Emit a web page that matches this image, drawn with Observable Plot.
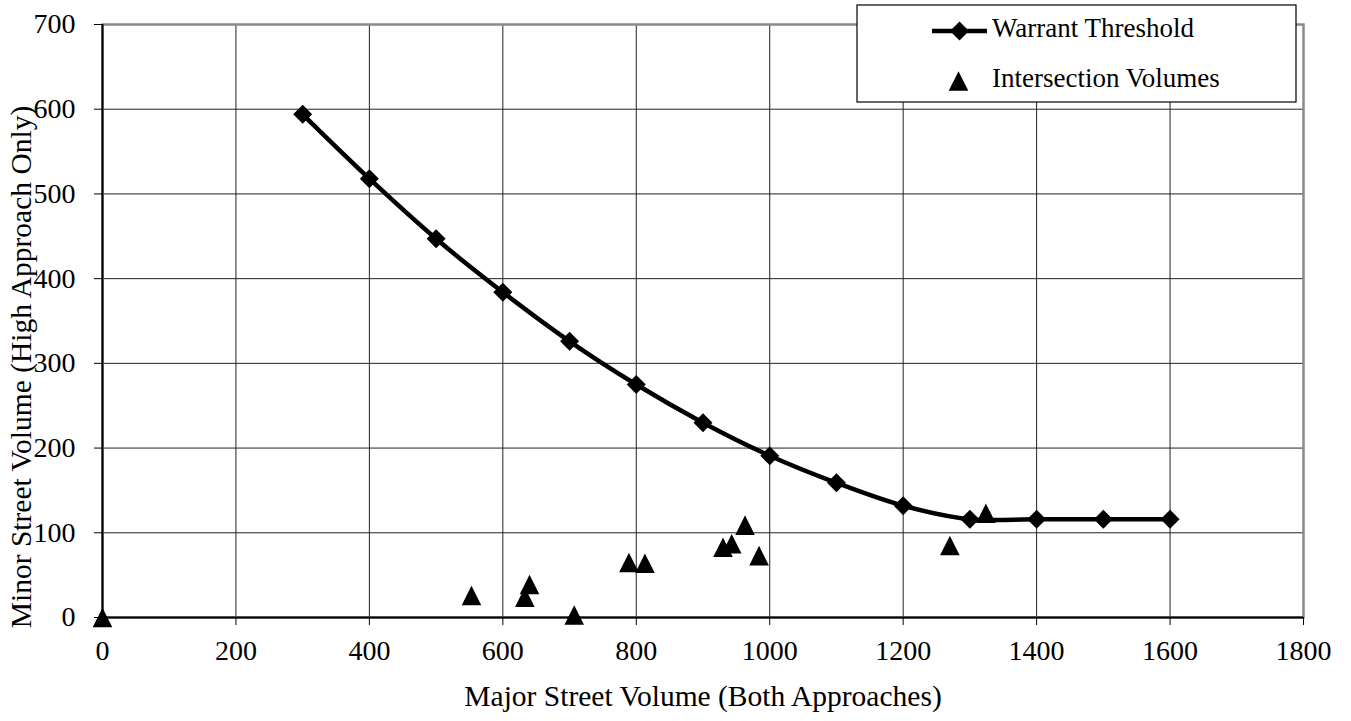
<!DOCTYPE html>
<html><head><meta charset="utf-8">
<script src="https://cdn.jsdelivr.net/npm/d3@7"></script>
<script src="https://cdn.jsdelivr.net/npm/@observablehq/plot@0.6"></script>
<style>
  html,body{margin:0;padding:0;background:#fff;}
  #chart{position:relative;width:1351px;height:721px;}
</style>
</head><body><div id="chart"></div>
<script>
// ---- data ----
const thresholdMajor = [300, 400, 500, 600, 700, 800, 900, 1000, 1100, 1200, 1300, 1400, 1500, 1600];
const thresholdMinor = [594, 518, 447, 384, 326, 275, 230, 191, 159, 132, 116, 116, 116, 116];
const intersectionMajor = [0, 553, 633, 640, 707, 789, 813, 930, 943, 963, 984, 1270, 1324];
const intersectionMinor = [0, 26, 24, 39, 3, 65, 64, 83, 87, 109, 73, 85, 123];
const xTicks = [0, 200, 400, 600, 800, 1000, 1200, 1400, 1600, 1800];
const yTicks = [0, 100, 200, 300, 400, 500, 600, 700];
const seriesNames = ["Warrant Threshold", "Intersection Volumes"];
const xTitle = "Major Street Volume (Both Approaches)";
const yTitle = "Minor Street Volume (High Approach Only)";

const threshold = thresholdMajor.map((x, i) => ({x, y: thresholdMinor[i]}));
const intersections = intersectionMajor.map((x, i) => ({x, y: intersectionMinor[i]}));

// Excel-like marker shapes (centred in their bounding box)
const triangle = {draw(ctx, size) {const h = Math.sqrt(size / Math.PI);
  ctx.moveTo(0, -h); ctx.lineTo(h, h); ctx.lineTo(-h, h); ctx.closePath();}};
const diamond = {draw(ctx, size) {const h = Math.sqrt(size / Math.PI);
  ctx.moveTo(0, -h); ctx.lineTo(h, 0); ctx.lineTo(0, h); ctx.lineTo(-h, 0); ctx.closePath();}};

const FONT = "'Liberation Serif', 'Times New Roman', serif";
const fmt = d3.format("d");

const chart = Plot.plot({
  width: 1351, height: 721,
  marginLeft: 102, marginRight: 48, marginTop: 24, marginBottom: 104,
  style: {fontFamily: FONT, fontSize: "28px", color: "black", background: "white", overflow: "visible"},
  x: {domain: [0, 1800]},
  y: {domain: [0, 700]},
  marks: [
    Plot.gridX(xTicks, {stroke: "#222", strokeOpacity: 1, strokeWidth: 1}),
    Plot.gridY(yTicks, {stroke: "#222", strokeOpacity: 1, strokeWidth: 1}),
    Plot.frame({stroke: "#8a8a8a", strokeWidth: 2.5}),
    Plot.ruleX([0], {stroke: "black", strokeWidth: 2}),
    Plot.ruleY([0], {stroke: "black", strokeWidth: 2}),
    Plot.axisX(xTicks, {tickSize: 8, tickPadding: 15, tickFormat: fmt, label: null, stroke: "black"}),
    Plot.axisY(yTicks, {tickSize: 8, tickPadding: 19, tickFormat: fmt, label: null, stroke: "black"}),
    Plot.text([xTitle], {text: d => d, frameAnchor: "bottom", lineAnchor: "middle", dy: 79, fontSize: 29.5, fill: "black"}),
    Plot.text([yTitle], {text: d => d, frameAnchor: "left", textAnchor: "middle", lineAnchor: "middle", rotate: -90, dx: -81, dy: 46, fontSize: 29.5, fill: "black"}),
    Plot.line(threshold, {x: "x", y: "y", curve: "catmull-rom", stroke: "black", strokeWidth: 4.5}),
    Plot.dot(threshold, {x: "x", y: "y", symbol: diamond, r: 9.5, fill: "black", stroke: "none"}),
    Plot.dot(intersections, {x: "x", y: "y", symbol: triangle, r: 9.8, fill: "black", stroke: "none"})
  ]
});
document.getElementById("chart").appendChild(chart);

// ---- legend (boxed, overlapping the top-right corner like the original) ----
const svg = d3.select(chart);
const lg = svg.append("g").attr("font-family", FONT).attr("font-size", 27).attr("text-anchor", "start");
lg.append("rect").attr("x", 857).attr("y", 5).attr("width", 439).attr("height", 97)
  .attr("fill", "white").attr("stroke", "black").attr("stroke-width", 1.2);
lg.append("line").attr("x1", 932).attr("x2", 987).attr("y1", 31).attr("y2", 31)
  .attr("stroke", "black").attr("stroke-width", 4.5);
lg.append("path").attr("d", d3.symbol(diamond, Math.PI * 9.5 * 9.5)())
  .attr("transform", "translate(959.5,31)").attr("fill", "black");
lg.append("text").attr("x", 992).attr("y", 37).attr("fill", "black").attr("text-anchor", "start").text(seriesNames[0]);
lg.append("path").attr("d", d3.symbol(triangle, Math.PI * 9.8 * 9.8)())
  .attr("transform", "translate(958.5,81)").attr("fill", "black");
lg.append("text").attr("x", 992).attr("y", 87).attr("fill", "black").attr("text-anchor", "start").text(seriesNames[1]);
</script>
</body></html>
